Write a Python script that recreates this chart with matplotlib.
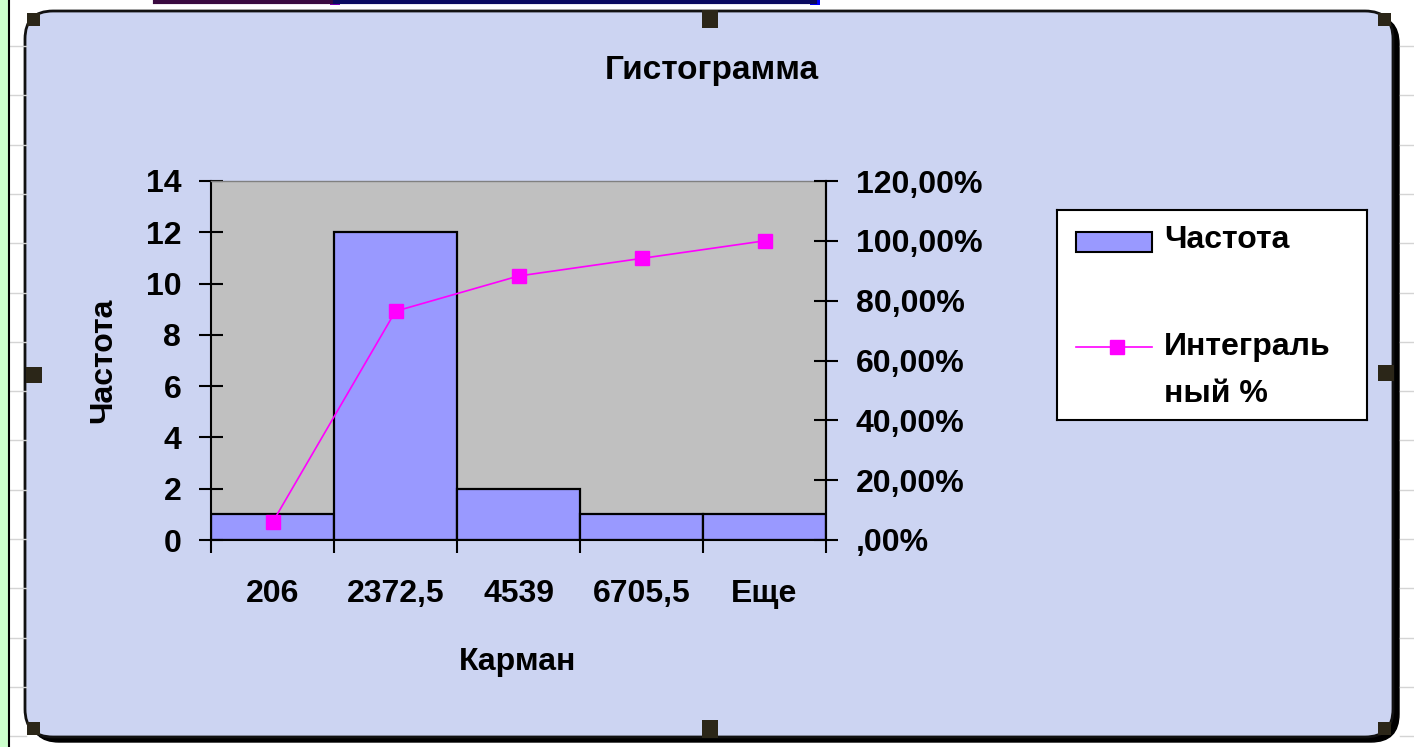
import numpy as np
import matplotlib as mpl
mpl.use('Agg')
import matplotlib.pyplot as plt
from matplotlib.patches import FancyBboxPatch, Rectangle
from matplotlib.lines import Line2D
from matplotlib.ticker import FuncFormatter

# data
categories = ['206', '2372,5', '4539', '6705,5', 'Еще']
frequency = [1, 12, 2, 1, 1]
cumulative_pct = [5.88, 76.47, 88.24, 94.12, 100.0]
left_ticks = [0, 2, 4, 6, 8, 10, 12, 14]
right_ticks = [0, 20, 40, 60, 80, 100, 120]

plt.rcParams['font.family'] = 'Liberation Sans'
plt.rcParams['font.weight'] = 'bold'

bar_color = "#9999FF"
line_color = "#FF00FF"
plot_bg = "#C0C0C0"
chart_bg = "#CCD4F2"
handle_color = "#2B2618"
fs = 23

W, H = 1414, 747
fig = plt.figure(figsize=(W / 100, H / 100), dpi=100)
fig.patch.set_facecolor('white')

# background: worksheet strip, chart area frame, selection handles
bg = fig.add_axes([0, 0, 1, 1], zorder=0)
bg.set_xlim(0, W)
bg.set_ylim(H, 0)
bg.axis('off')
for gy in np.arange(46, H, 49.3):
    bg.plot([10, 26], [gy, gy], color='#D4D4D4', lw=1)
    bg.plot([1400, W], [gy, gy], color='#D4D4D4', lw=1)
bg.add_patch(Rectangle((0, 0), 8, H, facecolor='#CCFFCC', edgecolor='none'))
bg.plot([9, 9], [0, H], color='black', lw=1.5)
bg.plot([155, 335], [1.5, 1.5], color='#3A0A40', lw=3)
bg.plot([335, 815], [1.5, 1.5], color='#0A0A60', lw=3)
bg.add_patch(Rectangle((330, 0), 10, 5, facecolor='#8000C0', edgecolor='none'))
bg.add_patch(Rectangle((810, 0), 10, 5, facecolor='#0000FF', edgecolor='none'))

shadow = FancyBboxPatch((31, 16), 1368, 726, boxstyle="round,pad=0,rounding_size=28",
                        facecolor='black', edgecolor='black', lw=1)
bg.add_patch(shadow)
chart = FancyBboxPatch((25, 11), 1368, 726, boxstyle="round,pad=0,rounding_size=28",
                       facecolor=chart_bg, edgecolor='#111111', lw=2)
bg.add_patch(chart)

for (hx, hy, hw, hh) in [(702, 10, 16, 18), (26, 367, 16, 16), (1378, 365, 16, 16),
                         (702, 720, 16, 18), (27, 13, 13, 13), (1378, 13, 13, 13),
                         (27, 722, 13, 13), (1378, 722, 13, 13)]:
    bg.add_patch(Rectangle((hx, hy), hw, hh, facecolor=handle_color, edgecolor='none'))

# plot area
ax1 = fig.add_axes([211 / W, 1 - 540 / H, (826 - 211) / W, (540 - 181) / H], zorder=2)
ax1.set_facecolor(plot_bg)
x = np.arange(len(categories))
ax1.bar(x, frequency, width=1.0, color=bar_color, edgecolor='black', linewidth=1.6)
ax1.set_xlim(-0.5, len(categories) - 0.5)
ax1.set_ylim(0, 14)
ax1.set_yticks(left_ticks)
ax1.set_xticks(np.arange(-0.5, len(categories), 1.0))
ax1.set_xticklabels([])
ax1.set_xticks(x, minor=True)
ax1.set_xticklabels(categories, minor=True, fontsize=fs, fontweight='bold', va='top')
ax1.tick_params(axis='x', which='major', direction='out', length=9, width=1.5)
ax1.tick_params(axis='x', which='minor', length=0, pad=28)
ax1.tick_params(axis='y', direction='inout', length=17, width=1.5, pad=13, labelsize=fs)
for lab in ax1.get_yticklabels():
    lab.set_fontweight('bold')
for side in ['left', 'bottom', 'right']:
    ax1.spines[side].set_linewidth(1.5)
    ax1.spines[side].set_color('black')
ax1.spines['top'].set_color('#808080')
ax1.spines['top'].set_linewidth(1)

ax1.set_ylabel('Частота', fontsize=fs, fontweight='bold', va='center')
ax1.yaxis.set_label_coords(-0.175, 0.5)
ax1.set_xlabel('Карман', fontsize=fs, fontweight='bold', va='center')
ax1.xaxis.set_label_coords(0.499, -0.34)


def pct_fmt(v, pos):
    s = f"{v:.2f}".replace('.', ',')
    if s.startswith('0,'):
        s = s[1:]
    return s + '%'


ax2 = ax1.twinx()
ax2.set_zorder(3)
ax2.patch.set_visible(False)
ax2.plot(x, cumulative_pct, color=line_color, lw=1.2, marker='s', markersize=10,
         markerfacecolor=line_color, markeredgecolor=line_color)
ax2.set_ylim(0, 120)
ax2.set_yticks(right_ticks)
ax2.yaxis.set_major_formatter(FuncFormatter(pct_fmt))
ax2.tick_params(axis='y', direction='inout', length=17, width=1.5, pad=13, labelsize=fs)
for lab in ax2.get_yticklabels():
    lab.set_fontweight('bold')
for side in ['left', 'bottom', 'top']:
    ax2.spines[side].set_visible(False)
ax2.spines['right'].set_linewidth(1.5)
ax2.spines['right'].set_color('black')

fig.text(712 / W, 1 - 71 / H, 'Гистограмма', fontsize=24, fontweight='bold',
         ha='center', va='center')

# legend box
lg = fig.add_axes([1057 / W, 1 - 420 / H, 310 / W, 210 / H], zorder=4)
lg.set_xlim(0, 1)
lg.set_ylim(0, 1)
lg.set_xticks([])
lg.set_yticks([])
lg.set_facecolor('white')
for sp in lg.spines.values():
    sp.set_linewidth(1.5)
    sp.set_color('black')
lg.add_patch(Rectangle((0.061, 0.80), 0.245, 0.095, facecolor=bar_color,
                       edgecolor='black', lw=1.5))
lg.add_line(Line2D([0.061, 0.306], [0.348, 0.348], color=line_color, lw=1.2))
lg.add_line(Line2D([0.194], [0.348], color=line_color, marker='s', markersize=10))
lg.text(0.345, 0.857, 'Частота', fontsize=fs, fontweight='bold', va='center')
lg.text(0.345, 0.348, 'Интеграль', fontsize=fs, fontweight='bold', va='center')
lg.text(0.345, 0.125, 'ный %', fontsize=fs, fontweight='bold', va='center')

plt.savefig('out.png', dpi=100)
